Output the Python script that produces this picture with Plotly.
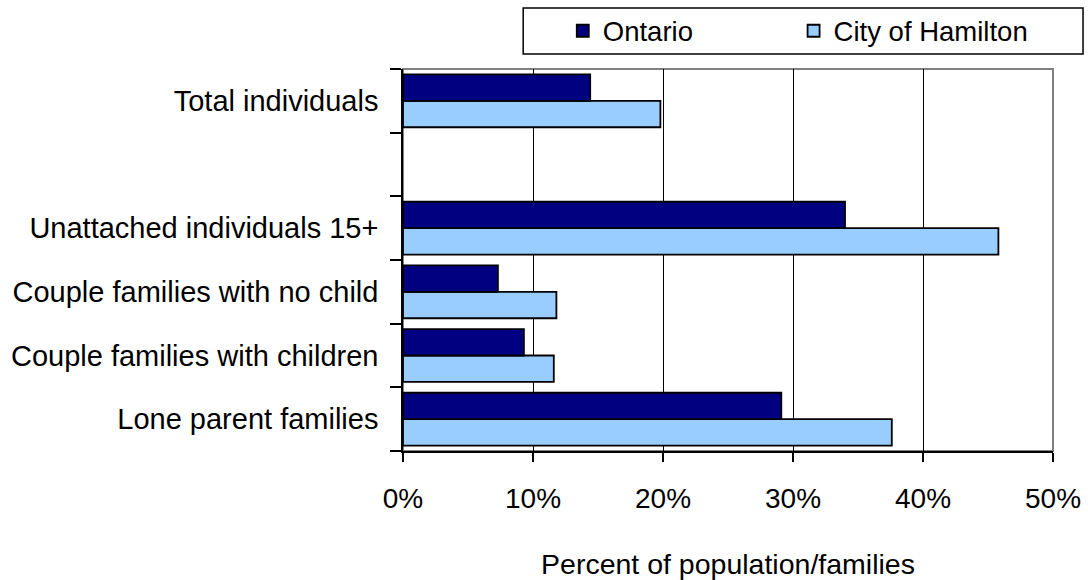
import plotly.graph_objects as go

# Categories listed top to bottom; " " is the empty spacer row
categories = ["Total individuals", " ", "Unattached individuals 15+",
              "Couple families with no child", "Couple families with children",
              "Lone parent families"]
ontario = [14.4, None, 34.0, 7.3, 9.3, 29.1]
hamilton = [19.8, None, 45.8, 11.8, 11.6, 37.6]
x_ticks = [0, 10, 20, 30, 40, 50]
x_tick_labels = ["0%", "10%", "20%", "30%", "40%", "50%"]

FONT = "Liberation Sans, Arial, sans-serif"

fig = go.Figure()
# Hamilton first so Ontario sits above it in each group (horizontal grouping goes bottom-up)
fig.add_trace(go.Bar(
    y=categories, x=hamilton, name="City of Hamilton", orientation="h",
    marker=dict(color="#99CCFF", line=dict(color="black", width=1.8)),
    legend="legend2",
))
fig.add_trace(go.Bar(
    y=categories, x=ontario, name="Ontario", orientation="h",
    marker=dict(color="#000080", line=dict(color="black", width=1.8)),
    legend="legend",
))

legend_style = dict(orientation="h", xanchor="left", yanchor="top", y=1.164,
                    borderwidth=0, bgcolor="rgba(0,0,0,0)", font=dict(size=27.5))

fig.update_layout(
    width=1088, height=580,
    margin=dict(l=403, r=35, t=69, b=129, autoexpand=False),
    paper_bgcolor="white", plot_bgcolor="white",
    barmode="group", bargap=0.17, bargroupgap=0,
    font=dict(family=FONT, size=28, color="black"),
    showlegend=True,
    legend=dict(legend_style, x=0.2458),
    legend2=dict(legend_style, x=0.6009),
    xaxis=dict(
        range=[0, 50], tickvals=x_ticks, ticktext=x_tick_labels,
        showgrid=True, gridcolor="black", gridwidth=1,
        showline=True, linecolor="black", linewidth=1.5,
        ticks="outside", ticklen=9, tickcolor="black", tickwidth=1.5,
        ticklabelstandoff=13, zeroline=False, tickfont=dict(size=28),
        automargin=False,
        title=dict(text="Percent of population/families", standoff=44,
                   font=dict(size=28.5)),
    ),
    yaxis=dict(
        type="category", categoryorder="array",
        categoryarray=list(reversed(categories)),
        tickson="boundaries", ticks="outside", ticklen=11,
        tickcolor="black", tickwidth=1.5, tickfont=dict(size=29),
        showline=True, linecolor="black", linewidth=1.5,
        showgrid=False, zeroline=False, ticklabelstandoff=17,
        automargin=False,
    ),
    shapes=[
        # plot-area frame (grey top/right edges)
        dict(type="rect", xref="x domain", yref="y domain",
             x0=0, x1=1, y0=0, y1=1, layer="below",
             line=dict(color="#808080", width=2)),
        # legend frame
        dict(type="rect", xref="paper", yref="paper",
             x0=0.1849, x1=1.0462, y0=1.0393, y1=1.1597, layer="above",
             line=dict(color="black", width=1.5), fillcolor="rgba(0,0,0,0)"),
    ],
)

fig.write_html("out.html")
